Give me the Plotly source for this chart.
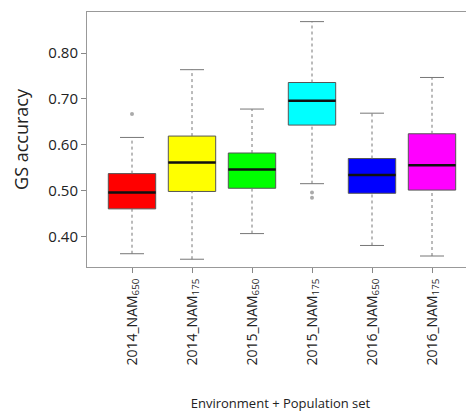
import plotly.graph_objects as go

labels = ["2014_NAM<sub>650</sub>", "2014_NAM<sub>175</sub>", "2015_NAM<sub>650</sub>",
          "2015_NAM<sub>175</sub>", "2016_NAM<sub>650</sub>", "2016_NAM<sub>175</sub>"]
colors = ["#ff0000", "#ffff00", "#00ff00", "#00ffff", "#0000ff", "#ff00ff"]
low = [0.362, 0.350, 0.406, 0.515, 0.380, 0.357]
q1 = [0.460, 0.498, 0.505, 0.643, 0.494, 0.501]
med = [0.496, 0.561, 0.546, 0.696, 0.534, 0.555]
q3 = [0.537, 0.619, 0.582, 0.736, 0.570, 0.624]
high = [0.616, 0.764, 0.678, 0.869, 0.669, 0.747]
out_x = [0, 3, 3]
out_y = [0.667, 0.496, 0.484]

fig = go.Figure()
cap = 0.2
wx, wy, cx, cy = [], [], [], []
for i in range(6):
    wx += [i, i, None, i, i, None]
    wy += [low[i], q1[i], None, q3[i], high[i], None]
    cx += [i - cap, i + cap, None, i - cap, i + cap, None]
    cy += [low[i], low[i], None, high[i], high[i], None]
fig.add_trace(go.Scatter(x=wx, y=wy, mode="lines", line=dict(color="#777", width=1, dash="dot"),
                         hoverinfo="skip", showlegend=False))
fig.add_trace(go.Scatter(x=cx, y=cy, mode="lines", line=dict(color="#777", width=1),
                         hoverinfo="skip", showlegend=False))
for i in range(6):
    fig.add_trace(go.Box(x=[i], q1=[q1[i]], median=[med[i]], q3=[q3[i]],
                         lowerfence=[q1[i]], upperfence=[q3[i]], width=0.79, whiskerwidth=0,
                         fillcolor=colors[i], line=dict(color="#555", width=1),
                         showlegend=False))
    fig.add_trace(go.Scatter(x=[i - 0.395, i + 0.395], y=[med[i], med[i]], mode="lines",
                             line=dict(color="#111", width=2.5), showlegend=False, hoverinfo="skip"))
fig.add_trace(go.Scatter(x=out_x, y=out_y, mode="markers",
                         marker=dict(color="#aaa", size=4), showlegend=False))

fig.update_layout(
    width=474, height=411, plot_bgcolor="white", paper_bgcolor="white",
    margin=dict(l=79, r=8, t=4, b=152),
    font=dict(family="Open Sans", color="#222"),
    xaxis=dict(range=[-0.75, 5.7], tickmode="array", tickvals=list(range(6)), ticktext=labels,
               tickangle=-90, tickfont=dict(size=14), ticks="outside", ticklen=5, tickcolor="#888",
               showline=True, linecolor="#999", mirror=True, showgrid=False, zeroline=False,
               title=dict(text="Environment + Population set", font=dict(size=13), standoff=34)),
    yaxis=dict(range=[0.333, 0.890], tickvals=[0.4, 0.5, 0.6, 0.7, 0.8], tickformat=".2f",
               tickfont=dict(size=15), ticks="outside", ticklen=5, tickcolor="#888",
               showline=True, linecolor="#999", mirror=True, showgrid=False, zeroline=False,
               title=dict(text="GS accuracy", font=dict(size=18))),
)
fig.write_html("out.html")
